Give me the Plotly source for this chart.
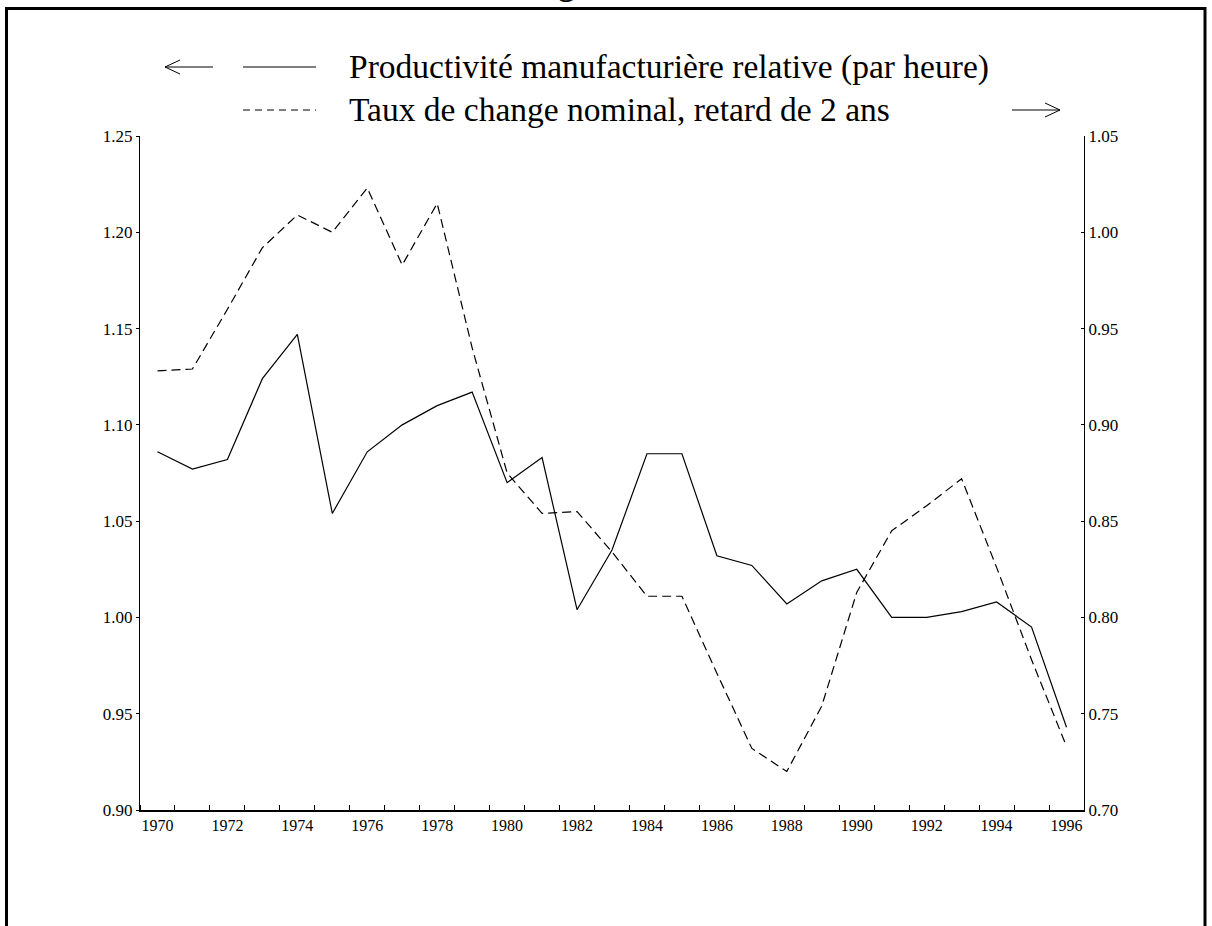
import plotly.graph_objects as go

years = list(range(1970, 1997))
productivity = [1.086, 1.077, 1.082, 1.124, 1.147, 1.054, 1.086, 1.100, 1.110, 1.117,
                1.070, 1.083, 1.004, 1.035, 1.085, 1.085, 1.032, 1.027, 1.007, 1.019,
                1.025, 1.000, 1.000, 1.003, 1.008, 0.995, 0.943]
exchange_lag2 = [0.928, 0.929, 0.960, 0.992, 1.009, 1.000, 1.023, 0.983, 1.015, 0.940,
                 0.875, 0.854, 0.855, 0.834, 0.811, 0.811, 0.771, 0.732, 0.720, 0.754,
                 0.813, 0.845, 0.858, 0.872, 0.826, 0.778, 0.733]
x_tick_labels = [str(y) for y in range(1970, 1997, 2)]
label1 = "Productivité manufacturière relative (par heure)"
label2 = "Taux de change nominal, retard de 2 ans"
title_text = "Figure 5"

W, H = 1212, 926
ML, MR, MT, MB = 140, 128, 136, 116
PW, PH = W - ML - MR, H - MT - MB


def px(x):
    return (x - ML) / PW


def py(y):
    return (H - MB - y) / PH


SERIF = "Liberation Serif, Times New Roman, serif"

fig = go.Figure()
fig.add_trace(go.Scatter(x=years, y=productivity, mode="lines", name=label1,
                         line=dict(color="black", width=1.2), yaxis="y"))
fig.add_trace(go.Scatter(x=years, y=exchange_lag2, mode="lines", name=label2,
                         line=dict(color="black", width=1.2, dash="9px,5px"), yaxis="y2"))

shapes = []
# page frame
shapes.append(dict(type="rect", xref="paper", yref="paper",
                   x0=px(6.5), x1=px(1205), y0=py(940), y1=py(8.5),
                   line=dict(color="black", width=3), fillcolor="rgba(0,0,0,0)"))
# legend sample lines
shapes.append(dict(type="line", xref="paper", yref="paper", x0=px(243), x1=px(316),
                   y0=py(67), y1=py(67), line=dict(color="black", width=1.2)))
shapes.append(dict(type="line", xref="paper", yref="paper", x0=px(243), x1=px(316),
                   y0=py(110), y1=py(110), line=dict(color="black", width=1.2, dash="7px,5px")))


def arrow_path(tail, tip, yy):
    d = 1 if tip > tail else -1
    hx = tip - d * 15
    return (f"M {px(tail)},{py(yy)} L {px(tip)},{py(yy)} "
            f"M {px(hx)},{py(yy - 7)} L {px(tip)},{py(yy)} L {px(hx)},{py(yy + 7)}")


shapes.append(dict(type="path", xref="paper", yref="paper", path=arrow_path(213, 165, 67),
                   line=dict(color="black", width=1)))
shapes.append(dict(type="path", xref="paper", yref="paper", path=arrow_path(1012, 1060, 110),
                   line=dict(color="black", width=1)))

annotations = [
    dict(xref="paper", yref="paper", x=px(347), y=py(67), xanchor="left", yanchor="middle",
         text=label1, showarrow=False, font=dict(family=SERIF, size=33.5, color="black")),
    dict(xref="paper", yref="paper", x=px(347), y=py(110), xanchor="left", yanchor="middle",
         text=label2, showarrow=False, font=dict(family=SERIF, size=33.5, color="black")),
    dict(xref="paper", yref="paper", x=px(588), y=py(4), xanchor="center", yanchor="bottom",
         text="<b>" + title_text + "</b>", showarrow=False,
         font=dict(family=SERIF, size=33, color="black")),
]

fig.update_layout(
    template="none",
    width=W, height=H,
    margin=dict(l=ML, r=MR, t=MT, b=MB, autoexpand=False),
    paper_bgcolor="white", plot_bgcolor="white",
    showlegend=False,
    hovermode=False,
    shapes=shapes,
    annotations=annotations,
    xaxis=dict(range=[1969.5, 1996.5], tickmode="array",
               tickvals=list(range(1970, 1997, 2)), ticktext=x_tick_labels,
               ticks="", showgrid=False, zeroline=False, showline=True,
               linecolor="black", linewidth=1.5, automargin=False,
               tickfont=dict(family=SERIF, size=16, color="black"),
               minor=dict(tick0=1969.5, dtick=1, ticks="inside", ticklen=5,
                          tickcolor="black", tickwidth=1, showgrid=False)),
    yaxis=dict(range=[0.90, 1.25], tickmode="linear", tick0=0.90, dtick=0.05,
               tickformat=".2f", ticks="outside", ticklen=3, tickcolor="black",
               showgrid=False, zeroline=False, showline=True, linecolor="black",
               linewidth=1, automargin=False,
               tickfont=dict(family=SERIF, size=17, color="black")),
    yaxis2=dict(range=[0.70, 1.05], tickmode="linear", tick0=0.70, dtick=0.05,
                tickformat=".2f", ticks="inside", ticklen=3, tickcolor="black",
                overlaying="y", side="right", anchor="x",
                showgrid=False, zeroline=False, showline=True, linecolor="black",
                linewidth=1, automargin=False,
                tickfont=dict(family=SERIF, size=17, color="black")),
)

fig.write_html("out.html", config={"displayModeBar": False, "staticPlot": True},
               post_script="document.body.style.margin='0';document.body.style.overflow='hidden';")
